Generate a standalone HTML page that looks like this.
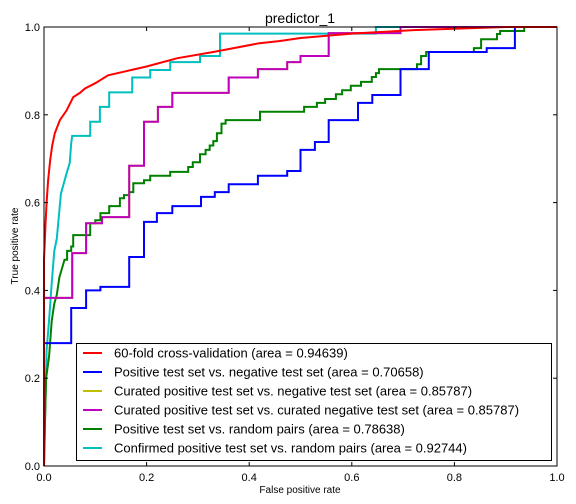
<!DOCTYPE html>
<html><head><meta charset="utf-8"><style>
body{margin:0;background:#fff;}
svg{display:block;font-family:"Liberation Sans","DejaVu Sans",sans-serif;}
</style></head><body>
<svg id="chart" width="576" height="504"></svg>
<script>
const xTicks=[0,0.2,0.4,0.6,0.8,1.0];
const yTicks=[0,0.2,0.4,0.6,0.8,1.0];
const tickLabels=["0.0","0.2","0.4","0.6","0.8","1.0"];
const redFpr=[0,0,0.003,0.005,0.008,0.012,0.016,0.021,0.031,0.044,0.057,0.07,0.08,0.1,0.125,0.17,0.2,0.26,0.33,0.42,0.46,0.5,0.6,0.72,0.8,0.9,1];
const redTpr=[0,0.47,0.55,0.6,0.65,0.697,0.73,0.758,0.788,0.81,0.84,0.85,0.86,0.872,0.89,0.902,0.91,0.929,0.943,0.963,0.968,0.975,0.985,0.993,0.996,1,1];
const blueFpr=[0,0,0.053,0.053,0.082,0.082,0.11,0.11,0.166,0.166,0.195,0.195,0.22,0.22,0.25,0.25,0.306,0.306,0.333,0.333,0.36,0.36,0.417,0.417,0.474,0.474,0.5,0.5,0.528,0.528,0.555,0.555,0.612,0.612,0.64,0.64,0.695,0.695,0.75,0.75,0.863,0.863,0.918,0.918,1];
const blueTpr=[0,0.28,0.28,0.36,0.36,0.40,0.40,0.408,0.408,0.476,0.476,0.556,0.556,0.576,0.576,0.592,0.592,0.613,0.613,0.624,0.624,0.642,0.642,0.661,0.661,0.672,0.672,0.72,0.72,0.738,0.738,0.788,0.788,0.827,0.827,0.845,0.845,0.904,0.904,0.943,0.943,0.952,0.952,1,1];
const magFpr=[0,0,0.055,0.055,0.082,0.082,0.113,0.113,0.166,0.166,0.195,0.195,0.222,0.222,0.25,0.25,0.36,0.36,0.417,0.417,0.474,0.474,0.5,0.5,0.555,0.555,0.695,0.695,1];
const magTpr=[0,0.383,0.383,0.485,0.485,0.553,0.553,0.567,0.567,0.684,0.684,0.784,0.784,0.818,0.818,0.85,0.85,0.885,0.885,0.904,0.904,0.92,0.92,0.934,0.934,0.986,0.986,1,1];
const greenFpr=[0,0.002,0.004,0.01,0.015,0.02,0.025,0.03,0.035,0.04,0.045,0.053,0.057,0.09,0.1,0.11,0.127,0.148,0.156,0.166,0.174,0.195,0.207,0.246,0.281,0.29,0.304,0.315,0.323,0.33,0.337,0.346,0.354,0.421,0.507,0.532,0.548,0.569,0.581,0.598,0.618,0.639,0.647,0.653,0.727,0.735,0.745,0.838,0.852,0.883,0.889,0.936,1];
const greenTpr=[0,0.1,0.2,0.25,0.33,0.37,0.39,0.43,0.45,0.47,0.49,0.5,0.526,0.553,0.56,0.576,0.592,0.61,0.617,0.624,0.644,0.651,0.661,0.67,0.681,0.692,0.71,0.72,0.73,0.74,0.758,0.78,0.788,0.807,0.818,0.827,0.836,0.847,0.856,0.866,0.875,0.886,0.895,0.904,0.915,0.934,0.943,0.952,0.972,0.984,0.991,1,1];
const cyanFpr=[0,0.002,0.005,0.01,0.015,0.02,0.025,0.033,0.044,0.05,0.053,0.055,0.09,0.09,0.109,0.109,0.127,0.127,0.172,0.172,0.207,0.207,0.246,0.246,0.304,0.304,0.343,0.343,0.647,0.647,1];
const cyanTpr=[0,0.105,0.264,0.333,0.416,0.49,0.518,0.62,0.667,0.69,0.735,0.752,0.752,0.784,0.784,0.818,0.818,0.851,0.851,0.885,0.885,0.902,0.902,0.92,0.92,0.934,0.934,0.985,0.985,1,1];
const legendLabels=["60-fold cross-validation (area = 0.94639)","Positive test set vs. negative test set (area = 0.70658)","Curated positive test set vs. negative test set (area = 0.85787)","Curated positive test set vs. curated negative test set (area = 0.85787)","Positive test set vs. random pairs (area = 0.78638)","Confirmed positive test set vs. random pairs (area = 0.92744)"];
const colors=["#ff0000","#0000ff","#bfbf00","#bf00bf","#008000","#00bfbf"];

const X0=44,X1=557,Y0=27,Y1=466;
const sx=v=>X0+v*(X1-X0), sy=v=>Y1-v*(Y1-Y0);
const svg=document.getElementById('chart');
const NS="http://www.w3.org/2000/svg";
function mk(tag,attrs,parent){const e=document.createElementNS(NS,tag);for(const k in attrs)e.setAttribute(k,attrs[k]);(parent||svg).appendChild(e);return e;}

const series=[
 [redFpr,redTpr,colors[0],'series-cross-validation',false],
 [blueFpr,blueTpr,colors[1],'series-positive-vs-negative',false],
 [magFpr,magTpr,colors[2],'series-curated-vs-negative',false],
 [magFpr,magTpr,colors[3],'series-curated-vs-curated',false],
 [greenFpr,greenTpr,colors[4],'series-positive-vs-random',true],
 [cyanFpr,cyanTpr,colors[5],'series-confirmed-vs-random',false]];
const drawOrder=[5,4,2,3,1,0];
drawOrder.forEach(i=>{
 const s=series[i];
 const pts=[];
 s[0].forEach((f,j)=>{
  if(s[4]&&j>0&&s[1][j-1]>0.45){pts.push(sx(f).toFixed(1)+','+sy(s[1][j-1]).toFixed(1));}
  pts.push(sx(f).toFixed(1)+','+sy(s[1][j]).toFixed(1));
 });
 const p=mk('polyline',{points:pts.join(' '),fill:'none',stroke:s[2],'stroke-width':2,'stroke-linejoin':'miter'});
 
 
});
const fr=mk('rect',{x:X0,y:Y0,width:X1-X0,height:Y1-Y0,fill:'none',stroke:'#000','stroke-width':1});


xTicks.forEach((t,i)=>{
 const x=sx(t);
 mk('line',{x1:x,y1:Y1,x2:x,y2:Y1-4,stroke:'#000'});
 mk('line',{x1:x,y1:Y0,x2:x,y2:Y0+4,stroke:'#000'});
 const tx=mk('text',{x:x,y:Y1+15,'font-size':11,'text-anchor':'middle',fill:'#000'});
 tx.textContent=tickLabels[i];
 
 
});
yTicks.forEach((t,i)=>{
 const y=sy(t);
 mk('line',{x1:X0,y1:y,x2:X0+4,y2:y,stroke:'#000'});
 mk('line',{x1:X1,y1:y,x2:X1-4,y2:y,stroke:'#000'});
 const tx=mk('text',{x:X0-4,y:y+4,'font-size':11,'text-anchor':'end',fill:'#000'});
 tx.textContent=tickLabels[i];
 
 
});
const title=mk('text',{x:300,y:23,'font-size':14,'text-anchor':'middle'});
title.textContent='predictor_1';


const xl=mk('text',{x:300,y:493,'font-size':10,'text-anchor':'middle'});
xl.textContent='False positive rate';


const yl=mk('text',{x:0,y:0,'font-size':10,'text-anchor':'middle',transform:'translate(18,246) rotate(-90)'});
yl.textContent='True positive rate';


const lg=mk('g',{});


mk('rect',{x:76.5,y:343.5,width:475,height:117,fill:'#fff',stroke:'#000','stroke-width':1},lg);
legendLabels.forEach((l,i)=>{
 const y=353+i*19;
 const ent=mk('g',{},lg);
 
 
 mk('line',{x1:83,y1:y,x2:102,y2:y,stroke:colors[i],'stroke-width':2},ent);
 const t=mk('text',{x:114,y:y+4.5,'font-size':13},ent);
 t.textContent=l;
});
</script>
</body></html>
